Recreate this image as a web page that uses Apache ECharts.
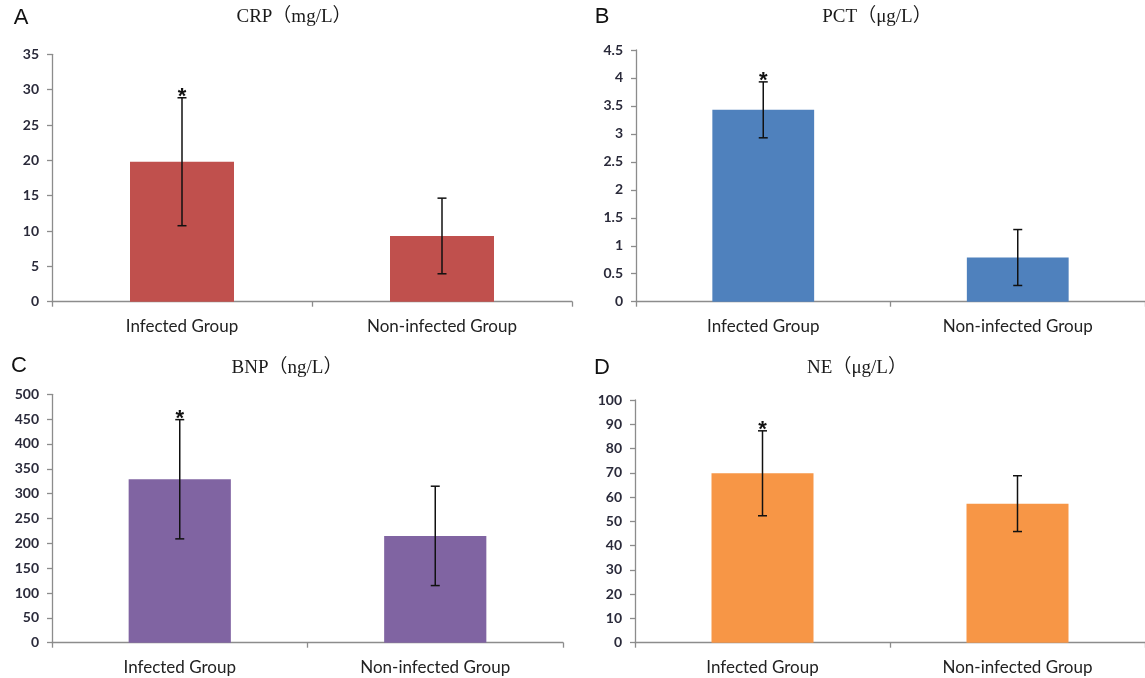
<!DOCTYPE html>
<html>
<head>
<meta charset="utf-8">
<script src="https://cdn.jsdelivr.net/npm/echarts@6/dist/echarts.min.js"></script>
<style>
html,body{margin:0;padding:0;background:#fff;}
#main{width:1145px;height:678px;}
</style>
</head>
<body>
<div id="main"></div>
<script>
// ---- data ----
var categories = ['Infected Group', 'Non-infected Group'];

var crpMean = [19.8, 9.3];
var crpSD   = [9.05, 5.35];
var crpTicks = { min: 0, max: 35, interval: 5 };

var pctMean = [3.43, 0.79];
var pctSD   = [0.5, 0.5];
var pctTicks = { min: 0, max: 4.5, interval: 0.5 };

var bnpMean = [329, 215];
var bnpSD   = [120, 100];
var bnpTicks = { min: 0, max: 500, interval: 50 };

var neMean = [69.8, 57.3];
var neSD   = [17.5, 11.5];
var neTicks = { min: 0, max: 100, interval: 10 };

var significant = [true, false];

var panelTitles = ['CRP（mg/L）', 'PCT（μg/L）', 'BNP（ng/L）', 'NE（μg/L）'];
var panelLetters = ['A', 'B', 'C', 'D'];

// ---- layout / style ----
var panels = [
  { mean: crpMean, sd: crpSD, ticks: crpTicks, color: '#C0504D',
    grid: { left: 52, top: 54.3, width: 520, height: 247.4 },
    title: [294, 17], letter: [21, 18] },
  { mean: pctMean, sd: pctSD, ticks: pctTicks, color: '#4F81BD',
    grid: { left: 636, top: 50, width: 514.7, height: 251.7 },
    title: [877, 17], letter: [602, 17] },
  { mean: bnpMean, sd: bnpSD, ticks: bnpTicks, color: '#8064A2',
    grid: { left: 52, top: 394.3, width: 511, height: 248.4 },
    title: [287, 368], letter: [19, 366] },
  { mean: neMean, sd: neSD, ticks: neTicks, color: '#F79646',
    grid: { left: 635, top: 400, width: 511, height: 242.7 },
    title: [857, 368], letter: [602, 368] }
];

var axisColor = '#8c8c8c';
var option = {
  animation: false,
  backgroundColor: '#fff',
  title: [],
  grid: [],
  xAxis: [],
  yAxis: [],
  series: [],
  graphic: []
};

panels.forEach(function (p, i) {
  option.grid.push(Object.assign({ containLabel: false }, p.grid));
  option.xAxis.push({
    type: 'category', gridIndex: i, data: categories,
    boundaryGap: true,
    axisLine: { lineStyle: { color: axisColor, width: 1.3 } },
    axisTick: { show: true, inside: false, length: 5, lineStyle: { color: axisColor, width: 1.3 } },
    axisLabel: { margin: 16, fontFamily: 'Lato', fontSize: 17, color: '#222' },
    splitLine: { show: false }
  });
  option.yAxis.push({
    type: 'value', gridIndex: i,
    min: p.ticks.min, max: p.ticks.max, interval: p.ticks.interval,
    axisLine: { show: true, lineStyle: { color: axisColor, width: 1.3 } },
    axisTick: { show: true, inside: false, length: 5, lineStyle: { color: axisColor, width: 1.3 } },
    axisLabel: { margin: 13, fontFamily: 'Lato', fontSize: 14, fontWeight: 'bold', color: '#2a2a3a' },
    splitLine: { show: false }
  });
  option.series.push({
    type: 'bar', xAxisIndex: i, yAxisIndex: i,
    data: p.mean, barWidth: '40%',
    itemStyle: { color: p.color },
    silent: true
  });
  var errData = p.mean.map(function (m, k) {
    return [k, m - p.sd[k], m + p.sd[k], significant[k] ? 1 : 0];
  });
  option.series.push({
    type: 'custom', xAxisIndex: i, yAxisIndex: i,
    data: errData, z: 10, silent: true,
    encode: { x: 0, y: [1, 2] },
    renderItem: function (params, api) {
      var x = api.value(0);
      var lo = api.coord([x, api.value(1)]);
      var hi = api.coord([x, api.value(2)]);
      var cap = 4.5;
      var st = { stroke: '#111', lineWidth: 1.5 };
      var children = [
        { type: 'line', shape: { x1: lo[0], y1: lo[1], x2: hi[0], y2: hi[1] }, style: st },
        { type: 'line', shape: { x1: hi[0] - cap, y1: hi[1], x2: hi[0] + cap, y2: hi[1] }, style: st },
        { type: 'line', shape: { x1: lo[0] - cap, y1: lo[1], x2: lo[0] + cap, y2: lo[1] }, style: st }
      ];
      if (api.value(3) === 1) {
        children.push({
          type: 'text',
          style: {
            text: '*', x: hi[0], y: hi[1] - 12,
            align: 'center', verticalAlign: 'top',
            fontFamily: 'Liberation Sans', fontSize: 22, fontWeight: 'bold', fill: '#111'
          }
        });
      }
      return { type: 'group', children: children };
    }
  });
  option.graphic.push({
    type: 'text', x: p.title[0], y: p.title[1],
    style: { text: panelTitles[i], align: 'center', verticalAlign: 'middle',
      fontFamily: 'Liberation Serif, Noto Sans CJK SC', fontSize: 19, fill: '#1a1a1a' }
  });
  option.graphic.push({
    type: 'text', x: p.letter[0], y: p.letter[1],
    style: { text: panelLetters[i], align: 'center', verticalAlign: 'middle',
      fontFamily: 'Liberation Sans', fontSize: 22, fill: '#111' }
  });
});

var chart = echarts.init(document.getElementById('main'), null, { renderer: 'canvas' });
chart.setOption(option);
</script>
</body>
</html>
